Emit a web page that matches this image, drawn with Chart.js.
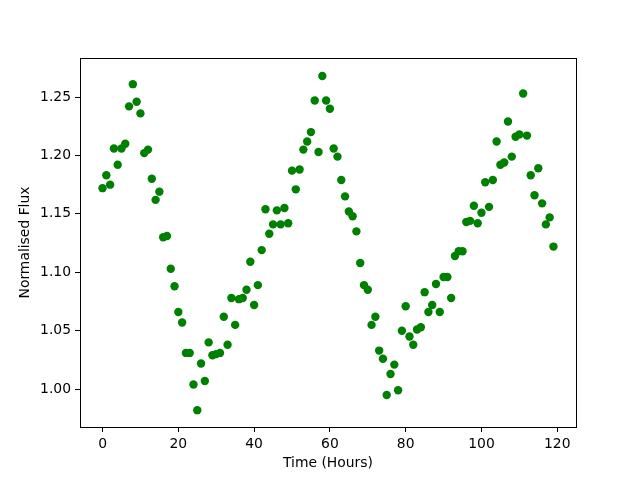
<!DOCTYPE html>
<html>
<head>
<meta charset="utf-8">
<script src="https://cdn.jsdelivr.net/npm/chart.js@4"></script>
<style>
  html, body { margin: 0; padding: 0; background: #fff; }
  canvas { display: block; }
</style>
</head>
<body>
<canvas id="chart" width="640" height="480"></canvas>
<script>
// time in hours (one reading per hour)
const hours = [
  0, 1, 2, 3, 4, 5, 6, 7, 8, 9, 10, 11, 12, 13, 14, 15, 16, 17, 18, 19,
  20, 21, 22, 23, 24, 25, 26, 27, 28, 29, 30, 31, 32, 33, 34, 35, 36, 37, 38, 39,
  40, 41, 42, 43, 44, 45, 46, 47, 48, 49, 50, 51, 52, 53, 54, 55, 56, 57, 58, 59,
  60, 61, 62, 63, 64, 65, 66, 67, 68, 69, 70, 71, 72, 73, 74, 75, 76, 77, 78, 79,
  80, 81, 82, 83, 84, 85, 86, 87, 88, 89, 90, 91, 92, 93, 94, 95, 96, 97, 98, 99,
  100, 101, 102, 103, 104, 105, 106, 107, 108, 109, 110, 111, 112, 113, 114, 115, 116, 117, 118, 119
];

// normalised flux
const flux = [
  1.172, 1.183, 1.175, 1.206, 1.192, 1.206, 1.210, 1.242, 1.261, 1.246,
  1.236, 1.202, 1.205, 1.180, 1.162, 1.169, 1.130, 1.131, 1.103, 1.088,
  1.066, 1.057, 1.031, 1.031, 1.004, 0.982, 1.022, 1.007, 1.040, 1.029,
  1.030, 1.031, 1.062, 1.038, 1.078, 1.055, 1.077, 1.078, 1.085, 1.109,
  1.072, 1.089, 1.119, 1.154, 1.133, 1.141, 1.153, 1.141, 1.155, 1.142,
  1.187, 1.171, 1.188, 1.205, 1.212, 1.220, 1.247, 1.203, 1.268, 1.247,
  1.240, 1.206, 1.199, 1.179, 1.165, 1.152, 1.148, 1.135, 1.108, 1.089,
  1.085, 1.055, 1.062, 1.033, 1.026, 0.995, 1.013, 1.021, 0.999, 1.050,
  1.071, 1.045, 1.038, 1.051, 1.053, 1.083, 1.066, 1.072, 1.090, 1.066,
  1.096, 1.096, 1.078, 1.114, 1.118, 1.118, 1.143, 1.144, 1.157, 1.142,
  1.151, 1.177, 1.156, 1.179, 1.212, 1.192, 1.194, 1.229, 1.199, 1.216,
  1.218, 1.253, 1.217, 1.183, 1.166, 1.189, 1.159, 1.141, 1.147, 1.122
];

const xTicks = [0, 20, 40, 60, 80, 100, 120];
const yTicks = [1.00, 1.05, 1.10, 1.15, 1.20, 1.25];

const points = hours.map((h, i) => ({ x: h, y: flux[i] }));

const tickFont = { family: 'DejaVu Sans', size: 13.9 };

// matplotlib draws a box round the axes
const frame = {
  id: 'frame',
  afterDraw(chart) {
    const a = chart.chartArea, ctx = chart.ctx;
    ctx.save();
    ctx.strokeStyle = '#000';
    ctx.lineWidth = 1;
    ctx.strokeRect(Math.round(a.left) + 0.5, Math.round(a.top) + 0.5,
      Math.round(a.right - a.left), Math.round(a.bottom - a.top));
    ctx.restore();
  }
};

new Chart(document.getElementById('chart').getContext('2d'), {
  type: 'scatter',
  data: {
    datasets: [{
      data: points,
      backgroundColor: '#008000',
      borderWidth: 0,
      pointRadius: 4.2,
      pointHoverRadius: 4.2
    }]
  },
  options: {
    responsive: false,
    animation: false,
    layout: { padding: { left: 0, top: 58, right: 64, bottom: 0 } },
    plugins: { legend: { display: false }, tooltip: { enabled: false } },
    scales: {
      x: {
        type: 'linear',
        min: -5.95,
        max: 124.95,
        afterBuildTicks: s => { s.ticks = xTicks.map(v => ({ value: v })); },
        afterFit: s => { s.height = 53; },
        grid: { drawOnChartArea: false, color: '#000', tickLength: 5, tickWidth: 1 },
        border: { color: '#000', width: 1 },
        ticks: { color: '#000', font: tickFont, padding: 4, maxRotation: 0 },
        title: {
          display: true, text: 'Time (Hours)', color: '#000',
          font: tickFont, padding: { top: 0, bottom: 8.7 }
        }
      },
      y: {
        type: 'linear',
        min: 0.9676,
        max: 1.2834,
        afterBuildTicks: s => { s.ticks = yTicks.map(v => ({ value: v })); },
        afterFit: s => { s.width = 80; },
        grid: { drawOnChartArea: false, color: '#000', tickLength: 5, tickWidth: 1 },
        border: { color: '#000', width: 1 },
        ticks: { color: '#000', font: tickFont, padding: 4, callback: v => v.toFixed(2) },
        title: {
          display: true, text: 'Normalised Flux', color: '#000',
          font: tickFont, padding: { top: 17.2, bottom: 0 }
        }
      }
    }
  },
  plugins: [frame]
});
</script>
</body>
</html>
